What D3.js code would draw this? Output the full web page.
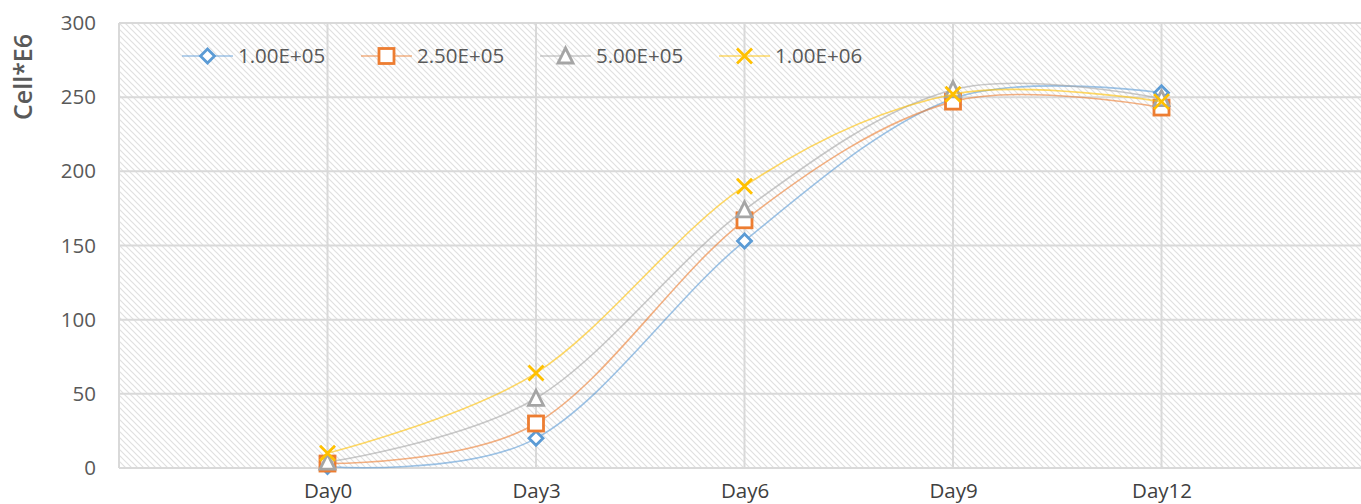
<!DOCTYPE html>
<html>
<head>
<meta charset="utf-8">
<script src="https://cdn.jsdelivr.net/npm/d3@7"></script>
<style>
  body { margin: 0; background: #fff; }
  svg { display: block; font-family: "Open Sans", "Noto Sans", sans-serif; }
</style>
</head>
<body>
<script>
// 画布尺寸
let width = 1361;
let height = 504;

let margin = { top: 23, right: -9, bottom: 36, left: 119 };

// 数据
let days = ['Day0', 'Day3', 'Day6', 'Day9', 'Day12'];
let seriesNames = ['1.00E+05', '2.50E+05', '5.00E+05', '1.00E+06'];
let s1 = [1, 20, 153, 249, 253];
let s2 = [3, 30, 167, 247, 243];
let s3 = [4, 47, 174, 255, 249];
let s4 = [10, 64, 190, 252, 247];
let yTicks = [0, 50, 100, 150, 200, 250, 300];

let colors = ['#5B9BD5', '#ED7D31', '#A5A5A5', '#FFC000'];
let shapes = ['diamond', 'square', 'triangle', 'cross'];
let allSeries = [s1, s2, s3, s4];

let x = d3.scalePoint()
  .domain(days)
  .range([margin.left, width - margin.right])
  .padding(1);

let y = d3.scaleLinear()
  .domain([0, 300])
  .range([height - margin.bottom, margin.top]);

let svg = d3.select('body')
  .append('svg')
  .attr('width', width)
  .attr('height', height);

// 斜线底纹
let defs = svg.append('defs');
defs.append('pattern')
  .attr('id', 'hatch')
  .attr('patternUnits', 'userSpaceOnUse')
  .attr('width', 6)
  .attr('height', 6)
  .append('path')
  .attr('d', 'M-1,-1 L7,7 M-1,5 L1,7 M5,-1 L7,1')
  .attr('stroke', '#e0e0e0')
  .attr('stroke-width', 1.2);

svg.append('rect')
  .attr('x', margin.left)
  .attr('y', margin.top)
  .attr('width', width - margin.left)
  .attr('height', y(0) - margin.top)
  .attr('fill', 'url(#hatch)');

// 网格线
svg.append('g')
  .selectAll('line')
  .data(yTicks)
  .enter()
  .append('line')
  .attr('x1', margin.left)
  .attr('x2', width)
  .attr('y1', d => y(d))
  .attr('y2', d => y(d))
  .attr('stroke', '#d9d9d9')
  .attr('stroke-width', 2);

svg.append('g')
  .selectAll('line')
  .data(days)
  .enter()
  .append('line')
  .attr('x1', d => x(d))
  .attr('x2', d => x(d))
  .attr('y1', margin.top)
  .attr('y2', y(0))
  .attr('stroke', '#d9d9d9')
  .attr('stroke-width', 2);

svg.append('line')
  .attr('x1', margin.left)
  .attr('x2', margin.left)
  .attr('y1', margin.top)
  .attr('y2', y(0))
  .attr('stroke', '#d9d9d9')
  .attr('stroke-width', 2);

// 坐标轴
let xAxis = g => g
  .attr('transform', `translate(0,${y(0)})`)
  .call(d3.axisBottom(x).tickSize(0).tickPadding(15))
  .call(g => g.select('.domain').remove());

let yAxis = g => g
  .attr('transform', `translate(${margin.left},0)`)
  .call(d3.axisLeft(y).tickValues(yTicks).tickSize(0).tickPadding(23))
  .call(g => g.select('.domain').remove());

svg.append('g').call(xAxis)
  .selectAll('text')
  .attr('font-size', 20.5)
  .attr('fill', '#404040')
  .attr('font-family', '"Open Sans", sans-serif');

svg.append('g').call(yAxis)
  .selectAll('text')
  .attr('font-size', 20.5)
  .attr('fill', '#595959')
  .attr('font-family', '"Open Sans", sans-serif');

svg.append('text')
  .attr('transform', 'translate(32,77) rotate(-90)')
  .attr('text-anchor', 'middle')
  .attr('font-size', 25)
  .attr('font-weight', 600)
  .attr('fill', '#595959')
  .text('Cell*E6');

// 标记形状
function drawMarker(g, shape, color, cx, cy) {
  if (shape === 'diamond') {
    g.append('path')
      .attr('d', `M${cx},${cy - 7} L${cx + 7},${cy} L${cx},${cy + 7} L${cx - 7},${cy} Z`)
      .attr('fill', '#fff').attr('stroke', color).attr('stroke-width', 2.8);
  } else if (shape === 'square') {
    g.append('rect')
      .attr('x', cx - 7.5).attr('y', cy - 7.5)
      .attr('width', 15).attr('height', 15)
      .attr('fill', '#fff').attr('stroke', color).attr('stroke-width', 2.8);
  } else if (shape === 'triangle') {
    g.append('path')
      .attr('d', `M${cx},${cy - 8} L${cx + 7.5},${cy + 7} L${cx - 7.5},${cy + 7} Z`)
      .attr('fill', '#fff').attr('stroke', color).attr('stroke-width', 2.8);
  } else {
    g.append('path')
      .attr('d', `M${cx - 7.5},${cy - 7.5} L${cx + 7.5},${cy + 7.5} M${cx + 7.5},${cy - 7.5} L${cx - 7.5},${cy + 7.5}`)
      .attr('fill', 'none').attr('stroke', color).attr('stroke-width', 2.8);
  }
}

let line = d3.line()
  .x((d, i) => x(days[i]))
  .y(d => y(d))
  .curve(d3.curveCardinal.tension(0));

allSeries.forEach((vals, k) => {
  let g = svg.append('g');
  g.append('path')
    .datum(vals)
    .attr('fill', 'none')
    .attr('stroke', colors[k])
    .attr('stroke-opacity', 0.6)
    .attr('stroke-width', 1.6)
    .attr('d', line);
  vals.forEach((v, i) => drawMarker(g, shapes[k], colors[k], x(days[i]), y(v)));
});

// 图例
let legend = svg.append('g');
seriesNames.forEach((name, k) => {
  let lx = 182 + k * 179;
  let ly = 56;
  let g = legend.append('g');
  g.append('line')
    .attr('x1', lx).attr('x2', lx + 51)
    .attr('y1', ly).attr('y2', ly)
    .attr('stroke', colors[k])
    .attr('stroke-opacity', 0.6)
    .attr('stroke-width', 1.6);
  drawMarker(g, shapes[k], colors[k], lx + 25.5, ly);
  g.append('text')
    .attr('x', lx + 56)
    .attr('y', ly)
    .attr('dy', '0.35em')
    .attr('font-size', 20.5)
    .attr('fill', '#595959')
    .text(name);
});
</script>
</body>
</html>
